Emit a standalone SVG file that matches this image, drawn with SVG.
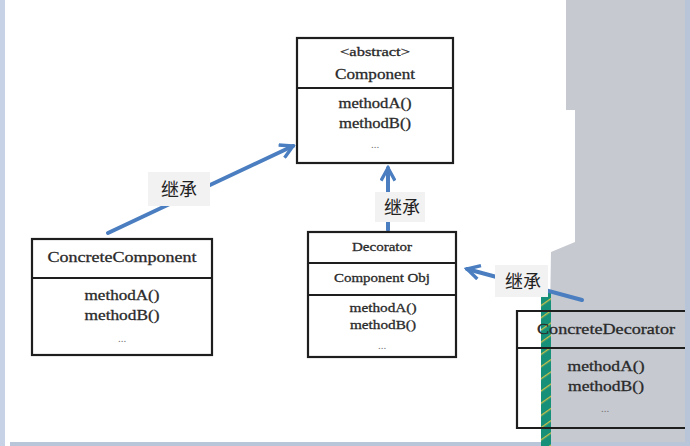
<svg xmlns="http://www.w3.org/2000/svg" width="690" height="446" viewBox="0 0 690 446">
<defs>
<style>
.box{fill:none;stroke:#1e1e1e;stroke-width:2.2}
.t{font-family:"Liberation Serif","Times New Roman",serif;fill:#2a2a2a;text-anchor:middle;stroke:#2a2a2a;stroke-width:0.3}
.dots{font-family:"Liberation Serif",serif;fill:#777;text-anchor:middle;font-size:11px}
.lbl{font-family:"Noto Sans CJK SC","Noto Sans",sans-serif;font-size:18px;fill:#222;text-anchor:middle}
.lbg{fill:#f2f2f2}
.arr{stroke:#4a7ec0;stroke-width:4;fill:none;stroke-linecap:round}
</style>
<marker id="ah" viewBox="0 0 12 12" refX="10" refY="6" markerWidth="4.2" markerHeight="4.2" orient="auto" markerUnits="strokeWidth">
<path d="M1,1 L10,6 L1,11" fill="none" stroke="#4a7ec0" stroke-width="2.4" stroke-linejoin="miter"/>
</marker>
<pattern id="stripe" width="10" height="10" patternUnits="userSpaceOnUse" patternTransform="rotate(-35)">
<rect width="10" height="10" fill="#17907a"/>
<rect y="0" width="10" height="1.3" fill="#c9c04a"/>
</pattern>
</defs>
<rect width="690" height="446" fill="#ffffff"/>
<g id="background">
<polygon points="566,0 685,0 685,442 548,442 551,252 575,242 575,110 566,110" fill="#c6c9d0"/>
<rect x="0" y="0" width="5" height="446" fill="#c8d2e6"/>
<rect x="685" y="0" width="5" height="446" fill="#b8c4d8"/>
<rect x="10" y="442" width="680" height="4" fill="#b9c5d9"/>
<rect x="541" y="292" width="10" height="154" fill="url(#stripe)"/>
</g>
<g id="connectors">
<line class="arr" x1="108" y1="233" x2="293" y2="146" marker-end="url(#ah)"/>
<line class="arr" x1="388" y1="230" x2="388" y2="168" marker-end="url(#ah)"/>
<line class="arr" x1="582" y1="300" x2="467" y2="269" marker-end="url(#ah)"/>
<rect class="lbg" x="148" y="172" width="62" height="34"/>
<text class="lbl" x="179" y="196" font-size="20">继承</text>
<rect class="lbg" x="375" y="192" width="50" height="30"/>
<text class="lbl" x="402" y="214">继承</text>
<rect class="lbg" x="495" y="265" width="53" height="32"/>
<text class="lbl" x="523" y="288">继承</text>
</g>
<g id="component">
<rect class="box" x="297" y="38" width="156" height="125"/>
<line class="box" x1="297" y1="88" x2="453" y2="88" stroke-width="2.6"/>
<text class="t" x="375" y="56" font-size="13" textLength="70" lengthAdjust="spacingAndGlyphs">&lt;abstract&gt;</text>
<text class="t" x="375" y="79" font-size="15" textLength="80" lengthAdjust="spacingAndGlyphs">Component</text>
<text class="t" x="375" y="108" font-size="15" textLength="73" lengthAdjust="spacingAndGlyphs">methodA()</text>
<text class="t" x="375" y="128" font-size="15" textLength="72" lengthAdjust="spacingAndGlyphs">methodB()</text>
<text class="dots" x="375" y="148">...</text>
</g>
<g id="concreteComponent">
<rect class="box" x="32" y="239" width="180" height="116"/>
<line class="box" x1="32" y1="278" x2="212" y2="278"/>
<text class="t" x="122" y="262" font-size="15" textLength="149" lengthAdjust="spacingAndGlyphs">ConcreteComponent</text>
<text class="t" x="122" y="300" font-size="15" textLength="75" lengthAdjust="spacingAndGlyphs">methodA()</text>
<text class="t" x="122" y="320" font-size="15" textLength="75" lengthAdjust="spacingAndGlyphs">methodB()</text>
<text class="dots" x="122" y="342">...</text>
</g>
<g id="decorator">
<rect class="box" x="308" y="232" width="148" height="125"/>
<line class="box" x1="308" y1="263" x2="456" y2="263"/>
<line class="box" x1="308" y1="295" x2="456" y2="295"/>
<text class="t" x="382" y="251" font-size="13" textLength="60" lengthAdjust="spacingAndGlyphs">Decorator</text>
<text class="t" x="382" y="282" font-size="13" textLength="96" lengthAdjust="spacingAndGlyphs">Component Obj</text>
<text class="t" x="383" y="312" font-size="13" textLength="67" lengthAdjust="spacingAndGlyphs">methodA()</text>
<text class="t" x="383" y="329" font-size="13" textLength="66" lengthAdjust="spacingAndGlyphs">methodB()</text>
<text class="dots" x="382" y="349">...</text>
</g>
<g id="concreteDecorator">
<path class="box" d="M685,311 H517 V428 H685 M517,348 H685"/>
<text class="t" x="606" y="334" font-size="15" textLength="138" lengthAdjust="spacingAndGlyphs">ConcreteDecorator</text>
<text class="t" x="606" y="371" font-size="15" textLength="77" lengthAdjust="spacingAndGlyphs">methodA()</text>
<text class="t" x="606" y="391" font-size="15" textLength="76" lengthAdjust="spacingAndGlyphs">methodB()</text>
<text class="dots" x="605" y="412">...</text>
</g>
</svg>
